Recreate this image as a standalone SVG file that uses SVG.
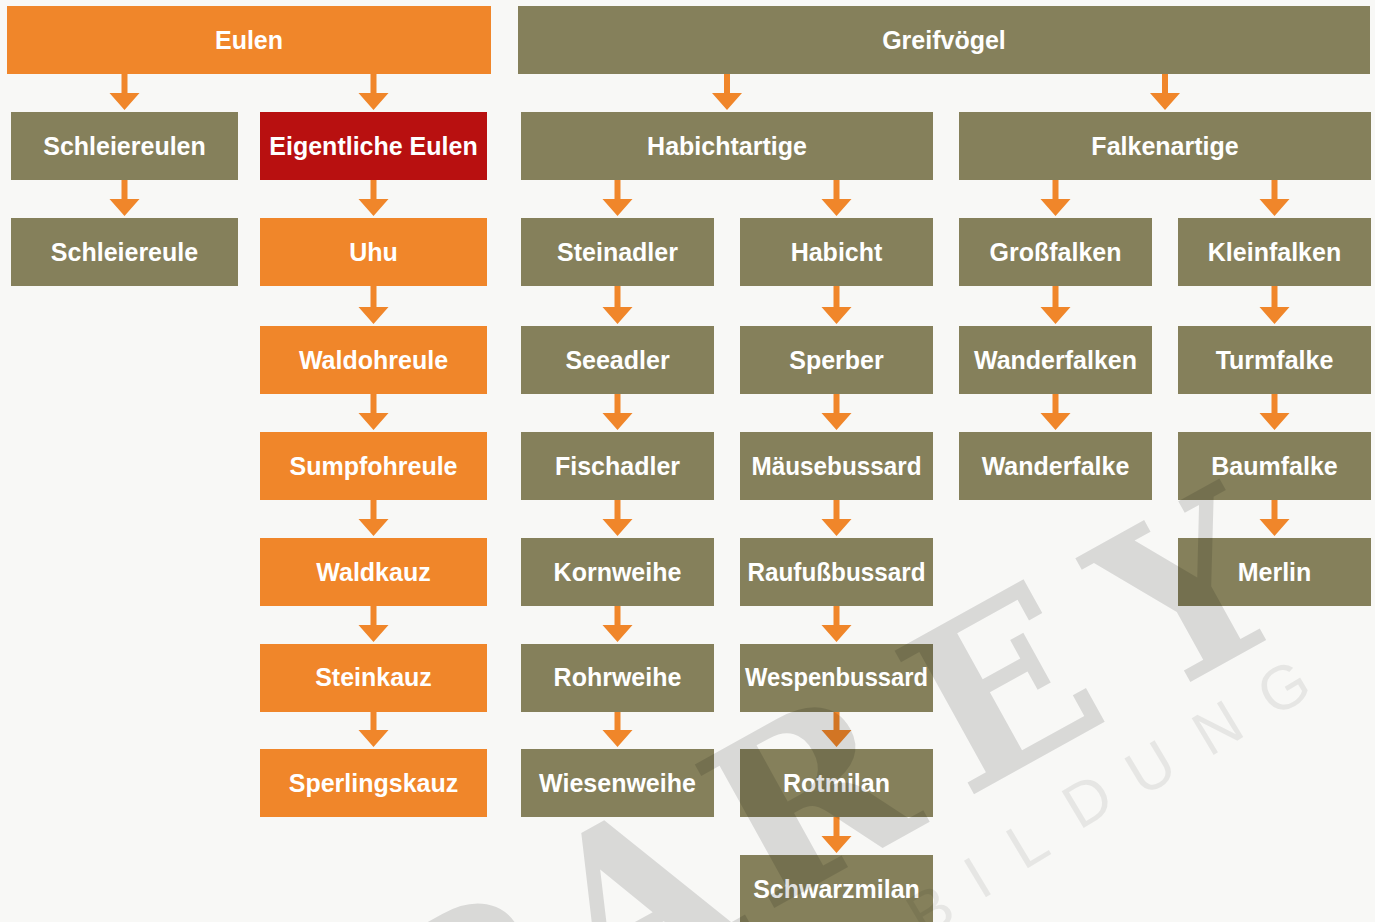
<svg xmlns="http://www.w3.org/2000/svg" width="1375" height="922" viewBox="0 0 1375 922">
<style>
.o{fill:#f0862a}.g{fill:#85805b}.r{fill:#b81010}
.t{font-family:"Liberation Sans",Arial,sans-serif;font-weight:bold;font-size:25px;fill:#fff;text-anchor:middle}
.a{fill:#f0862a}
.wm{font-family:"DejaVu Serif",serif;font-weight:bold;font-size:225px;fill:#000;fill-opacity:0.125;text-anchor:middle}
.wb{font-family:"Liberation Sans",Arial,sans-serif;font-size:62px;fill:#000;fill-opacity:0.07;text-anchor:middle}
</style>
<rect width="1375" height="922" fill="#f8f8f6"/>
<g id="connectors">
<path class="a" d="M121.5,74H127.5V93H139.5L124.5,110L109.5,93H121.5Z"/>
<path class="a" d="M370.5,74H376.5V93H388.5L373.5,110L358.5,93H370.5Z"/>
<path class="a" d="M724,74H730V93H742L727,110L712,93H724Z"/>
<path class="a" d="M1162,74H1168V93H1180L1165,110L1150,93H1162Z"/>
<path class="a" d="M121.5,180H127.5V199H139.5L124.5,216L109.5,199H121.5Z"/>
<path class="a" d="M370.5,180H376.5V199H388.5L373.5,216L358.5,199H370.5Z"/>
<path class="a" d="M614.5,180H620.5V199H632.5L617.5,216L602.5,199H614.5Z"/>
<path class="a" d="M833.5,180H839.5V199H851.5L836.5,216L821.5,199H833.5Z"/>
<path class="a" d="M1052.5,180H1058.5V199H1070.5L1055.5,216L1040.5,199H1052.5Z"/>
<path class="a" d="M1271.5,180H1277.5V199H1289.5L1274.5,216L1259.5,199H1271.5Z"/>
<path class="a" d="M370.5,286H376.5V307H388.5L373.5,324L358.5,307H370.5Z"/>
<path class="a" d="M614.5,286H620.5V307H632.5L617.5,324L602.5,307H614.5Z"/>
<path class="a" d="M833.5,286H839.5V307H851.5L836.5,324L821.5,307H833.5Z"/>
<path class="a" d="M1052.5,286H1058.5V307H1070.5L1055.5,324L1040.5,307H1052.5Z"/>
<path class="a" d="M1271.5,286H1277.5V307H1289.5L1274.5,324L1259.5,307H1271.5Z"/>
<path class="a" d="M370.5,394H376.5V413H388.5L373.5,430L358.5,413H370.5Z"/>
<path class="a" d="M614.5,394H620.5V413H632.5L617.5,430L602.5,413H614.5Z"/>
<path class="a" d="M833.5,394H839.5V413H851.5L836.5,430L821.5,413H833.5Z"/>
<path class="a" d="M1052.5,394H1058.5V413H1070.5L1055.5,430L1040.5,413H1052.5Z"/>
<path class="a" d="M1271.5,394H1277.5V413H1289.5L1274.5,430L1259.5,413H1271.5Z"/>
<path class="a" d="M370.5,500H376.5V519H388.5L373.5,536L358.5,519H370.5Z"/>
<path class="a" d="M614.5,500H620.5V519H632.5L617.5,536L602.5,519H614.5Z"/>
<path class="a" d="M833.5,500H839.5V519H851.5L836.5,536L821.5,519H833.5Z"/>
<path class="a" d="M1271.5,500H1277.5V519H1289.5L1274.5,536L1259.5,519H1271.5Z"/>
<path class="a" d="M370.5,606H376.5V625H388.5L373.5,642L358.5,625H370.5Z"/>
<path class="a" d="M614.5,606H620.5V625H632.5L617.5,642L602.5,625H614.5Z"/>
<path class="a" d="M833.5,606H839.5V625H851.5L836.5,642L821.5,625H833.5Z"/>
<path class="a" d="M370.5,712H376.5V730H388.5L373.5,747L358.5,730H370.5Z"/>
<path class="a" d="M614.5,712H620.5V730H632.5L617.5,747L602.5,730H614.5Z"/>
<path class="a" d="M833.5,712H839.5V730H851.5L836.5,747L821.5,730H833.5Z"/>
<path class="a" d="M833.5,817H839.5V836H851.5L836.5,853L821.5,836H833.5Z"/>
</g>
<g id="n-eulen"><rect class="o" x="7" y="6" width="484" height="68"/><text class="t" x="249" y="49">Eulen</text></g>
<g id="n-greifvoegel"><rect class="g" x="518" y="6" width="852" height="68"/><text class="t" x="944" y="49">Greifvögel</text></g>
<g id="n-schleiereulen"><rect class="g" x="11" y="112" width="227" height="68"/><text class="t" x="124.5" y="155">Schleiereulen</text></g>
<g id="n-eigentliche"><rect class="r" x="260" y="112" width="227" height="68"/><text class="t" x="373.5" y="155">Eigentliche Eulen</text></g>
<g id="n-habichtartige"><rect class="g" x="521" y="112" width="412" height="68"/><text class="t" x="727" y="155">Habichtartige</text></g>
<g id="n-falkenartige"><rect class="g" x="959" y="112" width="412" height="68"/><text class="t" x="1165" y="155">Falkenartige</text></g>
<g id="n-schleiereule"><rect class="g" x="11" y="218" width="227" height="68"/><text class="t" x="124.5" y="261">Schleiereule</text></g>
<g id="n-uhu"><rect class="o" x="260" y="218" width="227" height="68"/><text class="t" x="373.5" y="261">Uhu</text></g>
<g id="n-steinadler"><rect class="g" x="521" y="218" width="193" height="68"/><text class="t" x="617.5" y="261">Steinadler</text></g>
<g id="n-habicht"><rect class="g" x="740" y="218" width="193" height="68"/><text class="t" x="836.5" y="261">Habicht</text></g>
<g id="n-grossfalken"><rect class="g" x="959" y="218" width="193" height="68"/><text class="t" x="1055.5" y="261">Großfalken</text></g>
<g id="n-kleinfalken"><rect class="g" x="1178" y="218" width="193" height="68"/><text class="t" x="1274.5" y="261">Kleinfalken</text></g>
<g id="n-waldohreule"><rect class="o" x="260" y="326" width="227" height="68"/><text class="t" x="373.5" y="369">Waldohreule</text></g>
<g id="n-seeadler"><rect class="g" x="521" y="326" width="193" height="68"/><text class="t" x="617.5" y="369">Seeadler</text></g>
<g id="n-sperber"><rect class="g" x="740" y="326" width="193" height="68"/><text class="t" x="836.5" y="369">Sperber</text></g>
<g id="n-wanderfalken"><rect class="g" x="959" y="326" width="193" height="68"/><text class="t" x="1055.5" y="369">Wanderfalken</text></g>
<g id="n-turmfalke"><rect class="g" x="1178" y="326" width="193" height="68"/><text class="t" x="1274.5" y="369">Turmfalke</text></g>
<g id="n-sumpfohreule"><rect class="o" x="260" y="432" width="227" height="68"/><text class="t" x="373.5" y="475">Sumpfohreule</text></g>
<g id="n-fischadler"><rect class="g" x="521" y="432" width="193" height="68"/><text class="t" x="617.5" y="475">Fischadler</text></g>
<g id="n-maeusebussard"><rect class="g" x="740" y="432" width="193" height="68"/><text class="t" x="836.5" y="475" textLength="170" lengthAdjust="spacingAndGlyphs">Mäusebussard</text></g>
<g id="n-wanderfalke"><rect class="g" x="959" y="432" width="193" height="68"/><text class="t" x="1055.5" y="475">Wanderfalke</text></g>
<g id="n-baumfalke"><rect class="g" x="1178" y="432" width="193" height="68"/><text class="t" x="1274.5" y="475">Baumfalke</text></g>
<g id="n-waldkauz"><rect class="o" x="260" y="538" width="227" height="68"/><text class="t" x="373.5" y="581">Waldkauz</text></g>
<g id="n-kornweihe"><rect class="g" x="521" y="538" width="193" height="68"/><text class="t" x="617.5" y="581">Kornweihe</text></g>
<g id="n-raufussbussard"><rect class="g" x="740" y="538" width="193" height="68"/><text class="t" x="836.5" y="581" textLength="178" lengthAdjust="spacingAndGlyphs">Raufußbussard</text></g>
<g id="n-merlin"><rect class="g" x="1178" y="538" width="193" height="68"/><text class="t" x="1274.5" y="581">Merlin</text></g>
<g id="n-steinkauz"><rect class="o" x="260" y="644" width="227" height="68"/><text class="t" x="373.5" y="686">Steinkauz</text></g>
<g id="n-rohrweihe"><rect class="g" x="521" y="644" width="193" height="68"/><text class="t" x="617.5" y="686">Rohrweihe</text></g>
<g id="n-wespenbussard"><rect class="g" x="740" y="644" width="193" height="68"/><text class="t" x="836.5" y="686" textLength="183" lengthAdjust="spacingAndGlyphs">Wespenbussard</text></g>
<g id="n-sperlingskauz"><rect class="o" x="260" y="749" width="227" height="68"/><text class="t" x="373.5" y="792">Sperlingskauz</text></g>
<g id="n-wiesenweihe"><rect class="g" x="521" y="749" width="193" height="68"/><text class="t" x="617.5" y="792">Wiesenweihe</text></g>
<g id="n-rotmilan"><rect class="g" x="740" y="749" width="193" height="68"/><text class="t" x="836.5" y="792">Rotmilan</text></g>
<g id="n-schwarzmilan"><rect class="g" x="740" y="855" width="193" height="68"/><text class="t" x="836.5" y="898">Schwarzmilan</text></g>
<g id="watermark">
<text class="wm" transform="translate(465,995) rotate(-29)" y="82">P</text>
<text class="wm" transform="translate(633,898) rotate(-29)" y="82">A</text>
<text class="wm" transform="translate(807,796) rotate(-29)" y="82">R</text>
<text class="wm" transform="translate(1000,686) rotate(-29)" y="82">E</text>
<text class="wm" transform="translate(1187,590) rotate(-29)" y="82">Y</text>
<text class="wb" transform="translate(930,910) rotate(-31)" y="22">B</text>
<text class="wb" transform="translate(977,877) rotate(-31)" y="22">I</text>
<text class="wb" transform="translate(1027,843) rotate(-31)" y="22">L</text>
<text class="wb" transform="translate(1087,800) rotate(-31)" y="22">D</text>
<text class="wb" transform="translate(1150,767) rotate(-31)" y="22">U</text>
<text class="wb" transform="translate(1217,727) rotate(-31)" y="22">N</text>
<text class="wb" transform="translate(1283,687) rotate(-31)" y="22">G</text>
</g>
</svg>
